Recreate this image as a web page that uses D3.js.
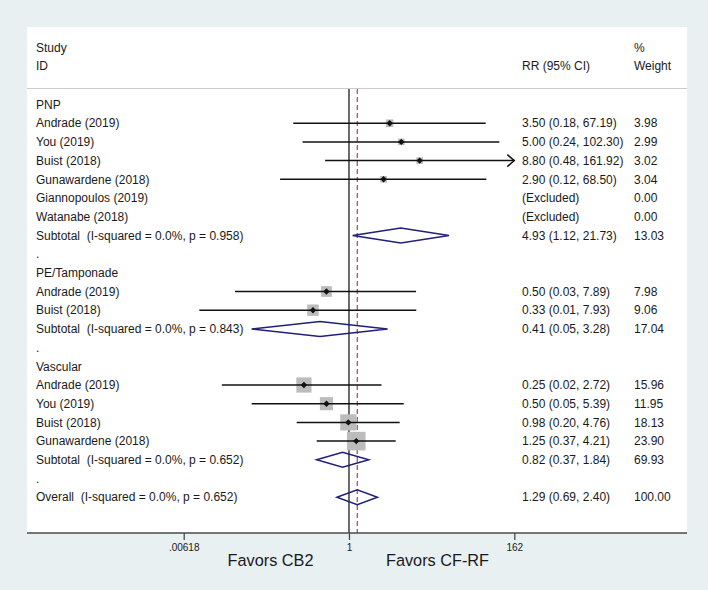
<html>
<script src='https://d3js.org/d3.v7.min.js'></script>
<style>
body {margin: 0; background: #e8f0f2;}
text {font-family: "Liberation Sans", Arial, Helvetica, sans-serif; fill: #1a1a1a;}
</style>
<body onload='init()'>
<svg width=708 height=590></svg>

<script>
// rows of the forest plot, top to bottom
var rowLabels = ["PNP", "Andrade (2019)", "You (2019)", "Buist (2018)", "Gunawardene (2018)",
  "Giannopoulos (2019)", "Watanabe (2018)", "Subtotal  (I-squared = 0.0%, p = 0.958)", ".",
  "PE/Tamponade", "Andrade (2019)", "Buist (2018)", "Subtotal  (I-squared = 0.0%, p = 0.843)", ".",
  "Vascular", "Andrade (2019)", "You (2019)", "Buist (2018)", "Gunawardene (2018)",
  "Subtotal  (I-squared = 0.0%, p = 0.652)", ".", "Overall  (I-squared = 0.0%, p = 0.652)"];
var rowKind = ["group", "study", "study", "study", "study", "excluded", "excluded", "pooled", "blank",
  "group", "study", "study", "pooled", "blank",
  "group", "study", "study", "study", "study", "pooled", "blank", "pooled"];
var rr    = [null, 3.50, 5.00, 8.80, 2.90, null, null, 4.93, null, null, 0.50, 0.33, 0.41, null, null, 0.25, 0.50, 0.98, 1.25, 0.82, null, 1.29];
var lower = [null, 0.18, 0.24, 0.48, 0.12, null, null, 1.12, null, null, 0.03, 0.01, 0.05, null, null, 0.02, 0.05, 0.20, 0.37, 0.37, null, 0.69];
var upper = [null, 67.19, 102.30, 161.92, 68.50, null, null, 21.73, null, null, 7.89, 7.93, 3.28, null, null, 2.72, 5.39, 4.76, 4.21, 1.84, null, 2.40];
var weight = [null, 3.98, 2.99, 3.02, 3.04, 0.00, 0.00, 13.03, null, null, 7.98, 9.06, 17.04, null, null, 15.96, 11.95, 18.13, 23.90, 69.93, null, 100.00];

var tickValues = [0.00618, 1, 162];
var tickLabels = [".00618", "1", "162"];
var overallRR = 1.29;

function init() {
  var svg = d3.select("svg");
  var f2 = d3.format(".2f");

  var x = d3.scaleLog().domain([0.00618, 162]).range([183.7, 514.3]);
  var y = d3.scaleLinear().domain([0, rowLabels.length - 1]).range([104.5, 497.2]);

  var left = 27, right = 687, top = 27, axisY = 533;
  var navy = "#1e2079", maroon = "#a4454b";

  // white plot panel
  svg.append("rect").attr("x", left).attr("y", top)
    .attr("width", right - left).attr("height", axisY - top).attr("fill", "white");

  // header
  svg.append("text").attr("x", 36).attr("y", 47.7).attr("dy", "0.35em").style("font-size", "12px").text("Study");
  svg.append("text").attr("x", 36).attr("y", 65.7).attr("dy", "0.35em").style("font-size", "12px").text("ID");
  svg.append("text").attr("x", 522).attr("y", 65.7).attr("dy", "0.35em").style("font-size", "12px").text("RR (95% CI)");
  svg.append("text").attr("x", 634).attr("y", 47.7).attr("dy", "0.35em").style("font-size", "12px").text("%");
  svg.append("text").attr("x", 634).attr("y", 65.7).attr("dy", "0.35em").style("font-size", "12px").text("Weight");
  svg.append("line").attr("x1", left).attr("x2", right).attr("y1", 88.5).attr("y2", 88.5)
    .attr("stroke", "#cccccc").attr("stroke-width", 1);

  // null line and overall line
  svg.append("line").attr("x1", x(1)).attr("x2", x(1)).attr("y1", 89).attr("y2", axisY)
    .attr("stroke", "#3a3a3a").attr("stroke-width", 1.5);
  svg.append("line").attr("x1", x(overallRR)).attr("x2", x(overallRR)).attr("y1", 89).attr("y2", axisY)
    .attr("stroke", maroon).attr("stroke-width", 1.2).attr("stroke-dasharray", "5,3");

  var rows = rowLabels.map(function(d, i) {
    return {i: i, label: d, kind: rowKind[i], rr: rr[i], lo: lower[i], hi: upper[i], w: weight[i]};
  });

  // labels
  svg.append("g").selectAll("text").data(rows).enter().append("text")
    .attr("x", 36).attr("y", function(d) { return y(d.i); }).attr("dy", "0.35em")
    .style("font-size", "12px").style("white-space", "pre")
    .text(function(d) { return d.label; });

  var withVal = rows.filter(function(d) { return d.w !== null; });
  svg.append("g").selectAll("text").data(withVal).enter().append("text")
    .attr("x", 522).attr("y", function(d) { return y(d.i); }).attr("dy", "0.35em")
    .style("font-size", "12px")
    .text(function(d) { return d.kind == "excluded" ? "(Excluded)" : f2(d.rr) + " (" + f2(d.lo) + ", " + f2(d.hi) + ")"; });
  svg.append("g").selectAll("text").data(withVal).enter().append("text")
    .attr("x", 634).attr("y", function(d) { return y(d.i); }).attr("dy", "0.35em")
    .style("font-size", "12px")
    .text(function(d) { return f2(d.w); });

  // studies
  var studies = rows.filter(function(d) { return d.kind == "study"; });
  var xmax = x.range()[1];
  var g = svg.append("g");
  g.selectAll("rect").data(studies).enter().append("rect")
    .attr("x", function(d) { return x(d.rr) - 1.9 * Math.sqrt(d.w); })
    .attr("y", function(d) { return y(d.i) - 1.9 * Math.sqrt(d.w); })
    .attr("width", function(d) { return 3.8 * Math.sqrt(d.w); })
    .attr("height", function(d) { return 3.8 * Math.sqrt(d.w); })
    .attr("fill", "#bcbcbc");
  g.selectAll("line.ci").data(studies).enter().append("line").attr("class", "ci")
    .attr("x1", function(d) { return x(d.lo); })
    .attr("x2", function(d) { return Math.min(x(d.hi), xmax); })
    .attr("y1", function(d) { return y(d.i); }).attr("y2", function(d) { return y(d.i); })
    .attr("stroke", "#111").attr("stroke-width", 1.5);
  // arrow where the interval runs to the edge of the axis
  g.selectAll("path.arrow").data(studies.filter(function(d) { return x(d.hi) >= xmax - 1; })).enter()
    .append("path").attr("class", "arrow")
    .attr("d", function(d) { var cy = y(d.i); return "M" + (xmax - 7) + "," + (cy - 6) + "L" + xmax + "," + cy + "L" + (xmax - 7) + "," + (cy + 6); })
    .attr("fill", "none").attr("stroke", "#111").attr("stroke-width", 1.5);
  g.selectAll("path.pt").data(studies).enter().append("path").attr("class", "pt")
    .attr("d", function(d) { var cx = x(d.rr), cy = y(d.i); return "M" + cx + "," + (cy - 3.2) + "L" + (cx + 3.2) + "," + cy + "L" + cx + "," + (cy + 3.2) + "L" + (cx - 3.2) + "," + cy + "Z"; })
    .attr("fill", "#111");

  // pooled diamonds
  var pooled = rows.filter(function(d) { return d.kind == "pooled"; });
  svg.append("g").selectAll("path").data(pooled).enter().append("path")
    .attr("d", function(d) {
      var cy = y(d.i);
      return "M" + x(d.lo) + "," + cy + "L" + x(d.rr) + "," + (cy - 7.5) + "L" + x(d.hi) + "," + cy + "L" + x(d.rr) + "," + (cy + 7.5) + "Z";
    })
    .attr("fill", "none").attr("stroke", navy).attr("stroke-width", 1.5);

  // axis
  svg.append("line").attr("x1", left).attr("x2", right).attr("y1", axisY).attr("y2", axisY)
    .attr("stroke", "#4a4a4a").attr("stroke-width", 1.5);
  var axis = svg.append("g").attr("transform", "translate(0," + axisY + ")")
    .call(d3.axisBottom(x).tickValues(tickValues).tickSize(7).tickPadding(4)
      .tickFormat(function(d, i) { return tickLabels[i]; }));
  axis.select(".domain").remove();
  axis.selectAll(".tick line").attr("stroke", "#4a4a4a").attr("stroke-width", 1.3);
  axis.selectAll(".tick text").style("font-size", "10px").attr("fill", "#1a1a1a")
    .style("font-family", "'Liberation Sans', Arial, Helvetica, sans-serif");

  svg.append("text").attr("x", 270.5).attr("y", 560).attr("dy", "0.35em").attr("text-anchor", "middle")
    .style("font-size", "16.3px").text("Favors CB2");
  svg.append("text").attr("x", 437.5).attr("y", 560).attr("dy", "0.35em").attr("text-anchor", "middle")
    .style("font-size", "16.3px").text("Favors CF-RF");
}
</script>
</body>
</html>
